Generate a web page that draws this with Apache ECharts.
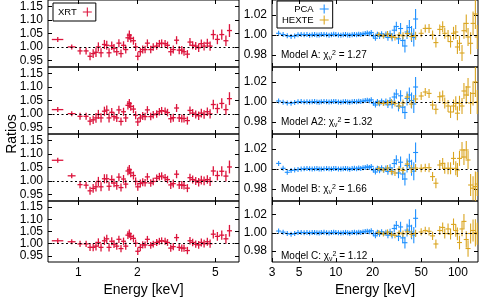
<!DOCTYPE html>
<html><head><meta charset="utf-8">
<script src="https://cdn.jsdelivr.net/npm/echarts@6/dist/echarts.min.js"></script>
<style>html,body{margin:0;padding:0;background:#fff}#c{width:479px;height:298px}</style>
</head><body><div id="c"></div>
<script>
// ---------------- DATA ----------------
const modelNames = ['A', 'A2', 'B', 'C'];
const chiSq = ['1.27', '1.32', '1.66', '1.12'];
const xrtTicks = [1, 2, 5];
const rightTicks = [3, 5, 10, 20, 50, 100];
const leftYTicks = [0.95, 1.00, 1.05, 1.10, 1.15];
const rightYTicks = [0.98, 1.00, 1.02];

// XRT (keV, half bin width, ratio error)
const xrtE = [0.785,0.925,1.02,1.095,1.147,1.19,1.23,1.265,1.305,1.358,1.396,1.434,1.48,1.52,1.57,1.61,1.65,1.70,1.745,1.79,1.82,1.85,1.91,1.96,2.01,2.07,2.13,2.19,2.25,2.34,2.41,2.51,2.59,2.66,2.77,2.85,2.96,3.05,3.17,3.27,3.37,3.46,3.60,3.71,3.83,3.97,4.11,4.24,4.38,4.55,4.70,4.88,5.12,5.39,5.66,5.90];
const xrtDE = [0.053,0.043,0.03,0.03,0.03,0.03,0.03,0.035,0.035,0.035,0.035,0.04,0.04,0.04,0.04,0.04,0.045,0.045,0.045,0.018,0.018,0.018,0.05,0.05,0.05,0.055,0.055,0.055,0.06,0.06,0.06,0.065,0.065,0.07,0.07,0.075,0.075,0.08,0.08,0.085,0.085,0.09,0.09,0.095,0.1,0.1,0.1,0.105,0.11,0.11,0.115,0.12,0.12,0.13,0.13,0.14];
const xrtErr = [0.008,0.009,0.013,0.013,0.015,0.016,0.018,0.017,0.017,0.017,0.017,0.017,0.016,0.016,0.015,0.015,0.015,0.015,0.015,0.016,0.017,0.016,0.015,0.015,0.015,0.015,0.015,0.014,0.014,0.014,0.014,0.014,0.014,0.014,0.014,0.014,0.015,0.015,0.015,0.015,0.015,0.015,0.015,0.015,0.015,0.015,0.016,0.016,0.016,0.016,0.017,0.018,0.018,0.019,0.020,0.024];
const xrtA  = [1.0276,1.000,0.985,0.985,0.965,0.975,0.980,1.000,0.978,1.009,1.006,0.978,1.004,0.995,0.982,1.014,0.975,1.006,0.990,1.034,1.044,1.032,1.023,1.000,0.965,0.982,0.990,0.990,1.014,0.990,1.000,1.003,1.012,1.014,1.012,1.006,0.982,0.990,1.025,0.988,0.988,0.982,0.973,1.018,1.006,1.003,0.997,1.012,1.003,1.014,1.003,1.046,1.028,1.046,1.023,1.061];
const xrtA2 = [1.016,1.001,0.991,0.991,0.973,0.978,0.985,0.998,0.985,1.010,1.014,0.985,1.006,0.990,0.985,1.015,0.972,1.008,0.985,1.032,1.039,1.028,1.018,0.995,0.970,0.985,0.992,0.990,1.015,0.990,0.997,1.000,1.008,1.012,1.010,1.005,0.982,0.986,1.022,0.985,0.983,0.983,0.975,1.013,1.003,0.998,0.993,1.003,0.998,1.008,1.000,1.035,1.020,1.039,1.016,1.057];
const xrtB  = [1.077,1.019,0.986,0.984,0.963,0.972,0.978,0.998,0.978,1.008,1.008,0.980,1.005,0.992,0.982,1.014,0.975,1.007,0.988,1.037,1.042,1.030,1.020,0.998,0.978,0.990,0.995,0.993,1.015,0.992,0.998,1.010,1.016,1.018,1.012,1.005,0.985,0.990,1.025,0.985,0.985,0.983,0.973,1.012,1.005,1.000,0.995,1.003,1.000,1.005,0.998,1.037,1.020,1.036,1.018,1.052];
const xrtC  = [1.012,1.008,0.999,0.999,0.985,0.985,0.990,1.005,0.985,1.012,1.020,0.985,1.010,0.998,0.990,1.018,0.980,1.010,0.990,1.035,1.041,1.030,1.022,1.002,0.969,0.985,0.995,0.995,1.018,0.993,0.998,1.005,1.010,1.012,1.010,1.005,0.982,0.988,1.025,0.985,0.982,0.982,0.972,1.012,1.005,0.998,0.995,1.005,1.000,1.008,1.000,1.039,1.030,1.035,1.020,1.053];

// PCA
const pcaE = [3.4,3.7,4.0,4.3,4.6,4.9,5.2,5.5,5.8,6.1,6.4,6.7,7.0,7.3,7.6,8.0,8.4,8.8,9.2,9.6,10.0,10.5,11.0,11.5,12.0,12.5,13.0,13.6,14.2,14.8,15.4,16.0,16.7,17.4,18.1,18.8,19.5,20.3,21.1,21.9,22.8,23.7,24.7,25.7,26.7,27.8,28.9,30.1,31.3,32.6,33.9,35.3,36.8,38.3,40.0,41.7,43.5,45.0];
const pcaErr = [0.0010,0.0007,0.0006,0.0006,0.0005,0.0005,0.0005,0.0005,0.0005,0.0005,0.0005,0.0005,0.0005,0.0005,0.0005,0.0005,0.0005,0.0005,0.0005,0.0006,0.0006,0.0006,0.0006,0.0006,0.0007,0.0007,0.0007,0.0008,0.0008,0.0008,0.0009,0.0009,0.0010,0.0010,0.0011,0.0012,0.0013,0.0015,0.0017,0.0019,0.0021,0.0024,0.0027,0.0030,0.0033,0.0036,0.0040,0.0044,0.0048,0.0052,0.0056,0.0060,0.0065,0.0070,0.0075,0.0080,0.0090,0.0100];
const pcaA  = [1.0017,1.0005,0.9992,0.9985,0.9990,1.0003,1.0006,1.0002,1.0004,0.9998,1.0003,1.0005,1.0001,0.9999,1.0004,1.0006,1.0002,0.9998,1.0003,1.0007,1.0004,1.0001,0.9998,1.0002,1.0005,1.0001,0.9997,1.0003,1.0006,1.0002,1.0008,1.0004,1.0010,1.0015,1.0020,1.0012,1.0025,0.9990,0.9968,1.0008,0.9985,1.0012,0.9992,1.0005,0.9975,1.0010,0.9978,1.0048,1.0085,0.9962,1.0065,0.9945,0.9890,1.0030,1.0075,1.0010,0.9975,1.0160];
const pcaA2 = [1.0010,0.9998,0.9990,0.9988,0.9995,1.0002,1.0004,1.0000,1.0003,0.9999,1.0002,1.0004,1.0000,0.9998,1.0003,1.0005,1.0002,0.9999,1.0003,1.0006,1.0004,1.0000,0.9998,1.0002,1.0004,1.0001,0.9998,1.0003,1.0005,1.0002,1.0007,1.0004,1.0009,1.0014,1.0018,1.0012,1.0022,0.9988,0.9970,1.0006,0.9982,1.0010,0.9990,1.0004,0.9972,1.0012,0.9975,1.0050,1.0080,0.9958,1.0062,0.9948,0.9895,1.0035,1.0070,1.0015,0.9980,1.0150];
const pcaB  = [1.0056,1.0007,0.9967,0.9985,0.9990,0.9995,1.0000,1.0003,1.0006,1.0003,1.0000,1.0002,1.0004,1.0001,0.9999,1.0003,1.0005,1.0002,1.0000,1.0004,1.0004,1.0001,0.9999,1.0003,1.0005,1.0002,0.9998,1.0004,1.0007,1.0003,1.0009,1.0006,1.0012,1.0016,1.0022,1.0014,1.0026,0.9990,0.9970,1.0008,0.9983,1.0012,0.9990,1.0005,0.9975,1.0012,0.9978,1.0055,1.0090,0.9960,1.0068,0.9950,0.9900,1.0035,1.0078,1.0012,0.9978,1.0165];
const pcaC  = [1.0020,1.0008,0.9993,0.9985,0.9992,1.0003,1.0005,1.0002,1.0004,0.9999,1.0003,1.0005,1.0001,0.9999,1.0004,1.0006,1.0002,0.9998,1.0003,1.0006,1.0004,1.0001,0.9998,1.0002,1.0005,1.0001,0.9997,1.0003,1.0006,1.0002,1.0008,1.0004,1.0010,1.0014,1.0019,1.0012,1.0024,0.9990,0.9968,1.0008,0.9985,1.0012,0.9992,1.0005,0.9975,1.0010,0.9978,1.0048,1.0082,0.9962,1.0065,0.9945,0.9892,1.0030,1.0075,1.0010,0.9975,1.0160];

// HEXTE
const hexE  = [22.5,24.5,26.5,28.5,30.5,33,35.5,38.5,41.5,45,50,54,58,62,66,71,75,78,83,87,92,96,99,103,108,112,117,121,127,133,139,144];
const hexDE = [0.8,0.9,1,1,1.1,1.2,1.3,1.4,1.5,1.6,1.8,2,2,2.2,2.3,2.5,2.6,2.7,2.9,3,3.2,3.3,3.5,3.6,3.8,3.9,4.1,4.2,4.4,4.6,4.8,5];
const hexErr = [0.0025,0.0025,0.003,0.003,0.003,0.003,0.0035,0.0035,0.004,0.004,0.004,0.004,0.0045,0.0045,0.005,0.005,0.0055,0.0055,0.006,0.006,0.0065,0.007,0.007,0.0075,0.008,0.008,0.009,0.009,0.011,0.012,0.015,0.012];
const hexA  = [1.0005,0.9990,1.0010,0.9985,0.9975,1.0000,0.9992,1.0015,0.9985,0.9992,1.0017,1.0066,1.0066,1.0000,0.9924,1.0056,1.0083,1.0017,0.9990,0.9934,1.0017,1.0030,0.9880,0.9917,0.9820,1.0043,1.0116,0.9980,0.9917,1.0116,1.0210,0.9980];
const hexA2 = [0.9990,0.9985,0.9993,1.0000,0.9985,0.9960,0.9990,1.0050,0.9980,1.0030,1.0060,1.0100,1.0086,0.9970,0.9927,1.0053,1.0060,0.9990,0.9960,0.9900,0.9960,0.9987,0.9888,0.9987,0.9960,1.0110,1.0070,1.0150,0.9990,1.0086,1.0200,1.0000];
const hexB  = [1.0005,0.9990,1.0010,0.9975,0.9960,1.0000,0.9985,1.0050,1.0000,1.0010,1.0007,1.0013,1.0013,0.9924,0.9858,1.0040,1.0056,1.0007,1.0007,1.0007,1.0106,1.0007,0.9990,1.0106,1.0190,1.0120,1.0190,1.0090,0.9840,0.9808,0.9825,0.9850];
const hexC  = [1.0005,0.9988,1.0008,0.9985,0.9972,1.0000,0.9990,1.0012,0.9985,0.9995,1.0010,1.0026,1.0017,0.9967,0.9878,1.0026,1.0060,0.9993,1.0043,0.9987,1.0093,1.0026,0.9990,0.9894,1.0043,1.0126,0.9927,0.9828,0.9993,1.0026,1.0000,0.9990];

const xrtSets = [xrtA, xrtA2, xrtB, xrtC];
const pcaSets = [pcaA, pcaA2, pcaB, pcaC];
const hexSets = [hexA, hexA2, hexB, hexC];

// ---------------- BUILD ----------------
const FONT = '"Liberation Sans", Arial, Helvetica, sans-serif';
const COL = { xrt: '#DC143C', pca: '#1E90FF', hex: '#DAA520' };
const L = Math.log10;

function pcaHalf(i) {
  const lo = i > 0 ? (pcaE[i] - pcaE[i - 1]) / 2 : (pcaE[1] - pcaE[0]) / 2;
  const hi = i < pcaE.length - 1 ? (pcaE[i + 1] - pcaE[i]) / 2 : lo;
  return [pcaE[i] - lo * 0.8, pcaE[i] + hi * 0.8];
}
function mk(E, vals, lo, hi, err) {
  return E.map((e, i) => [L(e), vals[i], L(lo(i)), L(hi(i)), err[i]]);
}
function errRender(color, lw) {
  return function (params, api) {
    const x = api.value(0), y = api.value(1), xl = api.value(2), xh = api.value(3), e = api.value(4);
    const c = api.coord([x, y]);
    const l = api.coord([xl, y]), r = api.coord([xh, y]);
    const t = api.coord([x, y + e]), b = api.coord([x, y - e]);
    const st = { stroke: color, lineWidth: lw };
    return { type: 'group', children: [
      { type: 'line', shape: { x1: Math.min(l[0], c[0] - 2.5), y1: c[1], x2: Math.max(r[0], c[0] + 2.5), y2: c[1] }, style: st },
      { type: 'line', shape: { x1: c[0], y1: Math.min(t[1], c[1] - 2.5), x2: c[0], y2: Math.max(b[1], c[1] + 2.5) }, style: st }
    ] };
  };
}
const dotted = { silent: true, symbol: ['none', 'none'], label: { show: false }, animation: false,
  lineStyle: { color: '#000', type: [2, 2.5], width: 1 }, emphasis: { disabled: true }, data: [{ yAxis: 1 }] };

const PH = 67;
const grids = [], xAxes = [], yAxes = [], series = [], titles = [];
const leftX = [L(0.7), L(6.6)], rightX = [L(3), L(146)];
const leftY = [0.925, 1.175], rightY = [0.968, 1.035];
const tickLen = 4;
const noLine = { show: false, onZero: false };

function addAxes(gi, xr, yr, xt, yt, showX) {
  const xvals = xt.map(L);
  const common = { type: 'value', gridIndex: gi, min: xr[0], max: xr[1], splitLine: { show: false }, axisLine: noLine };
  xAxes.push(Object.assign({}, common, { position: 'bottom',
    axisTick: { inside: true, length: tickLen, customValues: xvals, lineStyle: { color: '#000' } },
    axisLabel: { show: showX, customValues: xvals, formatter: v => String(Math.round(Math.pow(10, v))),
      fontSize: 12, fontFamily: FONT, color: '#000', margin: 5 },
    name: showX ? 'Energy [keV]' : '', nameLocation: 'middle', nameGap: 21,
    nameTextStyle: { fontSize: 14, fontFamily: FONT, color: '#000' } }));
  xAxes.push(Object.assign({}, common, { position: 'top',
    axisTick: { inside: true, length: tickLen, customValues: xvals, lineStyle: { color: '#000' } },
    axisLabel: { show: false } }));
  const yc = { type: 'value', gridIndex: gi, min: yr[0], max: yr[1], splitLine: { show: false }, axisLine: noLine };
  yAxes.push(Object.assign({}, yc, { position: 'left',
    axisTick: { inside: true, length: tickLen, customValues: yt, lineStyle: { color: '#000' } },
    axisLabel: { customValues: yt, formatter: v => v.toFixed(2), fontSize: 12, fontFamily: FONT, color: '#000', margin: 5 } }));
  yAxes.push(Object.assign({}, yc, { position: 'right',
    axisTick: { inside: true, length: tickLen, customValues: yt, lineStyle: { color: '#000' } },
    axisLabel: { show: false } }));
}

for (let i = 0; i < 4; i++) {
  const gl = 2 * i, gr = 2 * i + 1;
  grids.push({ left: 48, top: PH * i, width: 191, height: PH, show: true, borderColor: '#000', borderWidth: 1 });
  grids.push({ left: 272, top: PH * i, width: 206, height: PH, show: true, borderColor: '#000', borderWidth: 1 });
  addAxes(gl, leftX, leftY, xrtTicks, leftYTicks, i === 3);
  addAxes(gr, rightX, rightY, rightTicks, rightYTicks, i === 3);

  series.push({ type: 'custom', name: 'XRT', xAxisIndex: 2 * gl, yAxisIndex: 2 * gl, clip: true,
    itemStyle: { color: COL.xrt }, renderItem: errRender(COL.xrt, 1.3), encode: { x: 0, y: 1 },
    data: mk(xrtE, xrtSets[i], k => xrtE[k] - xrtDE[k], k => xrtE[k] + xrtDE[k], xrtErr), markLine: dotted, z: 3 });
  series.push({ type: 'custom', name: 'PCA', xAxisIndex: 2 * gr, yAxisIndex: 2 * gr, clip: true,
    itemStyle: { color: COL.pca }, renderItem: errRender(COL.pca, 1.1), encode: { x: 0, y: 1 },
    data: mk(pcaE, pcaSets[i], k => pcaHalf(k)[0], k => pcaHalf(k)[1], pcaErr), markLine: dotted, z: 3 });
  series.push({ type: 'custom', name: 'HEXTE', xAxisIndex: 2 * gr, yAxisIndex: 2 * gr, clip: true,
    itemStyle: { color: COL.hex }, renderItem: errRender(COL.hex, 1.1), encode: { x: 0, y: 1 },
    data: mk(hexE, hexSets[i], k => hexE[k] - hexDE[k], k => hexE[k] + hexDE[k], hexErr), z: 3 });

  const tBase = { fontFamily: FONT, color: '#000', lineHeight: 12, fontWeight: 'normal' };
  titles.push({ text: '{t|Model ' + modelNames[i] + ': χ}{s|ν}{p|2}{t| = ' + chiSq[i] + '}',
    left: 281, top: 49.5 + PH * i, padding: 0,
    textStyle: { fontWeight: 'normal', fontSize: 10, rich: {
      t: Object.assign({ fontSize: 10 }, tBase),
      s: Object.assign({ fontSize: 7, verticalAlign: 'bottom' }, tBase),
      p: Object.assign({ fontSize: 7, verticalAlign: 'top' }, tBase) } } });
}

const PLUS = 'path://M0,4.4H10V5.6H0ZM4.4,0H5.6V10H4.4Z';
const legendBase = { orient: 'vertical', align: 'right', itemWidth: 11, itemHeight: 9, itemGap: 1,
  icon: PLUS, selectedMode: false, borderColor: '#000', borderWidth: 1, borderRadius: 0,
  textStyle: { fontSize: 9.5, fontFamily: FONT, color: '#000' } };

const option = {
  animation: false,
  backgroundColor: '#fff',
  grid: grids, xAxis: xAxes, yAxis: yAxes, series: series, title: titles,
  legend: [
    Object.assign({}, legendBase, { data: ['XRT'], left: 53, top: 3, padding: [4, 4, 4, 5] }),
    Object.assign({}, legendBase, { data: ['PCA', 'HEXTE'], left: 277, top: 1, padding: [3, 4, 3, 5] })
  ],
  graphic: [{ type: 'text', x: 12, y: 134, rotation: Math.PI / 2,
    style: { text: 'Ratios', align: 'center', verticalAlign: 'middle', fontSize: 14, fontFamily: FONT, fill: '#000' } }]
};
const chart = echarts.init(document.getElementById('c'), null, { renderer: 'canvas' });
chart.setOption(option);
</script></body></html>
